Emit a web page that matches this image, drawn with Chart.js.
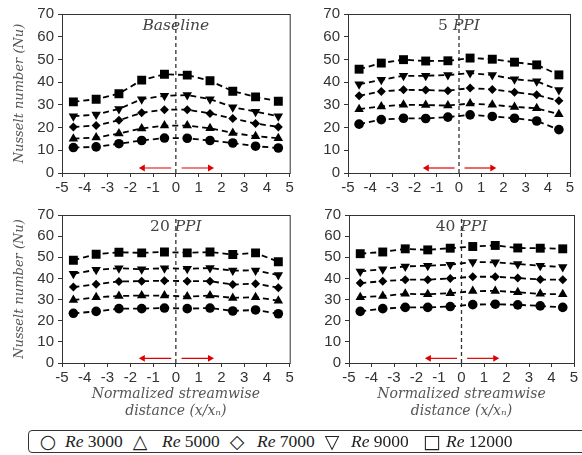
<!DOCTYPE html>
<html>
<head>
  <script src="https://cdn.jsdelivr.net/npm/chart.js"></script>
  <style>
    body { margin: 0; background: #fff; overflow: hidden; }
    .panel { position: absolute; }
    #legend {
      position: absolute; left: 28px; top: 430px; width: 575px; height: 21px;
      border: 1.5px solid #333; border-radius: 4px;
      font-family: 'Liberation Serif', serif; font-size: 17.5px; color: #222;
    }
    #legend span { position: absolute; top: 0px; line-height: 21px; white-space: nowrap; }
    #legend .sym { font-family: 'DejaVu Sans', sans-serif; font-size: 19px; transform: translateX(-50%); }
  </style>
</head>
<body>
  <div class="panel" style="left:0px; top:0px; width:296px; height:200px;"><canvas id="pBase"></canvas></div>
  <div class="panel" style="left:291px; top:0px; width:291px; height:200px;"><canvas id="p5"></canvas></div>
  <div class="panel" style="left:0px; top:200px; width:296px; height:222px;"><canvas id="p20"></canvas></div>
  <div class="panel" style="left:291px; top:200px; width:291px; height:222px;"><canvas id="p40"></canvas></div>

  <div id="legend">
    <span class="sym" style="left:19px">○</span><span style="left:36px"><i>Re</i> 3000</span>
    <span class="sym" style="left:111px">△</span><span style="left:133px"><i>Re</i> 5000</span>
    <span class="sym" style="left:208px">◇</span><span style="left:228px"><i>Re</i> 7000</span>
    <span class="sym" style="left:303px">▽</span><span style="left:322px"><i>Re</i> 9000</span>
    <span class="sym" style="left:403px">□</span><span style="left:417px"><i>Re</i> 12000</span>
  </div>

  <script>
    // streamwise positions of the measurement points
    const xs = [-4.5, -3.5, -2.5, -1.5, -0.5, 0.5, 1.5, 2.5, 3.5, 4.5];

    const seriesLabels = ['Re 3000', 'Re 5000', 'Re 7000', 'Re 9000', 'Re 12000'];

    // Baseline
    const baseRe3000  = [11.2, 11.5, 12.9, 14.3, 15.4, 15.3, 14.3, 13.2, 11.8, 11.0];
    const baseRe5000  = [15.1, 15.6, 17.4, 19.6, 20.9, 20.9, 19.7, 17.6, 16.2, 15.3];
    const baseRe7000  = [20.3, 20.9, 23.2, 26.5, 27.9, 27.9, 26.2, 24.0, 21.8, 20.3];
    const baseRe9000  = [25.0, 25.7, 28.2, 32.5, 34.0, 34.3, 32.5, 29.0, 27.0, 25.0];
    const baseRe12000 = [31.3, 32.5, 34.9, 40.9, 43.5, 43.1, 40.6, 36.0, 33.5, 31.6];

    // 5 PPI
    const ppi5Re3000  = [21.5, 23.5, 24.1, 24.0, 24.6, 25.6, 24.9, 24.1, 22.9, 19.1];
    const ppi5Re5000  = [28.1, 29.3, 30.0, 29.9, 29.7, 30.6, 30.0, 29.1, 28.5, 25.9];
    const ppi5Re7000  = [34.0, 35.9, 36.6, 36.5, 36.2, 37.4, 36.8, 35.6, 34.4, 31.8];
    const ppi5Re9000  = [39.1, 41.0, 42.8, 42.8, 43.1, 44.0, 43.1, 41.3, 40.4, 36.5];
    const ppi5Re12000 = [45.7, 48.4, 49.9, 49.3, 49.4, 50.6, 50.1, 48.8, 47.6, 43.2];

    // 20 PPI
    const ppi20Re3000  = [23.5, 24.4, 25.7, 25.7, 26.0, 25.7, 26.0, 24.6, 25.1, 23.3];
    const ppi20Re5000  = [29.8, 31.1, 31.7, 31.9, 31.9, 31.4, 31.9, 30.8, 31.1, 29.5];
    const ppi20Re7000  = [35.9, 37.3, 38.6, 38.7, 38.9, 38.7, 38.7, 37.1, 37.5, 35.6];
    const ppi20Re9000  = [42.2, 44.1, 44.8, 44.4, 44.8, 44.6, 44.9, 43.7, 43.8, 41.6];
    const ppi20Re12000 = [48.6, 51.4, 52.4, 52.1, 52.5, 52.1, 52.5, 51.3, 52.1, 47.9];

    // 40 PPI
    const ppi40Re3000  = [24.4, 25.7, 26.3, 26.3, 26.7, 27.6, 27.8, 27.5, 27.0, 26.3];
    const ppi40Re5000  = [31.1, 31.7, 32.7, 32.5, 33.0, 34.0, 34.1, 33.5, 32.7, 32.5];
    const ppi40Re7000  = [37.8, 38.7, 39.4, 39.4, 40.0, 40.8, 40.8, 40.2, 39.5, 39.4];
    const ppi40Re9000  = [43.3, 44.4, 45.7, 46.0, 46.5, 47.8, 47.6, 46.8, 46.0, 45.4];
    const ppi40Re12000 = [51.7, 52.5, 54.0, 53.5, 54.3, 55.1, 55.6, 54.4, 54.3, 54.0];

    // guides: centre line and flow-direction arrows
    const centreX = [0, 0];
    const centreY = [0, 70];
    const arrowY = 2.2;
    const leftArrowX = [-0.2, -1.45];
    const rightArrowX = [0.25, 1.5];

    const markerStyles = [
      { pointStyle: 'circle', radius: 4.8, rotation: 0 },
      { pointStyle: 'triangle', radius: 5.5, rotation: 0 },
      { pointStyle: 'rectRot', radius: 4.5, rotation: 0 },
      { pointStyle: 'triangle', radius: 5.5, rotation: 180 },
      { pointStyle: 'rect', radius: 6.3, rotation: 0 }
    ];

    const tickFont = { family: "'Liberation Sans', Arial, sans-serif", size: 15 };
    const titleFont = { family: "'DejaVu Serif', serif", size: 13, style: 'italic' };

    // frame round the plot + panel label
    const panelDecor = {
      id: 'panelDecor',
      beforeDatasetsDraw(chart, args, opts) {
        const ctx = chart.ctx;
        const xPix = chart.scales.x.getPixelForValue(0);
        const yPix = chart.chartArea.top + 12;
        ctx.save();
        ctx.fillStyle = '#444';
        ctx.textBaseline = 'middle';
        const numFont = "15.5px 'DejaVu Serif', serif";
        const itFont = "italic 15.5px 'DejaVu Serif', serif";
        ctx.font = numFont;
        const wNum = opts.num ? ctx.measureText(opts.num + ' ').width : 0;
        ctx.font = itFont;
        const wIt = ctx.measureText(opts.label).width;
        let x0 = xPix - (wNum + wIt) / 2;
        if (opts.num) {
          ctx.font = numFont;
          ctx.fillText(opts.num + ' ', x0, yPix);
        }
        ctx.font = itFont;
        ctx.fillText(opts.label, x0 + wNum, yPix);
        ctx.restore();
      },
      afterDraw(chart) {
        const { ctx, chartArea: a } = chart;
        ctx.save();
        ctx.strokeStyle = '#333';
        ctx.lineWidth = 1;
        ctx.strokeRect(a.left + 0.5, a.top + 0.5, a.right - a.left, a.bottom - a.top);
        ctx.restore();
      }
    };

    function makePanel(id, values, num, label, opt) {
      const datasets = values.map((vals, i) => ({
        label: seriesLabels[i],
        data: vals.map((v, j) => ({ x: xs[j], y: v })),
        borderColor: '#000',
        backgroundColor: '#000',
        borderWidth: 1.8,
        borderDash: [6, 4],
        pointStyle: markerStyles[i].pointStyle,
        pointRadius: markerStyles[i].radius,
        rotation: markerStyles[i].rotation,
        pointBorderWidth: 0,
        tension: 0
      }));
      datasets.push({
        label: 'centre',
        data: centreX.map((v, j) => ({ x: v, y: centreY[j] })),
        borderColor: '#333',
        borderWidth: 1.3,
        borderDash: [4, 3],
        pointRadius: 0
      });
      [[leftArrowX, -90], [rightArrowX, 90]].forEach(([ax, rot]) => {
        datasets.push({
          label: 'arrow',
          data: ax.map(v => ({ x: v, y: arrowY })),
          borderColor: '#e00000',
          backgroundColor: '#e00000',
          borderWidth: 1.2,
          pointStyle: 'triangle',
          pointRadius: [0, 4],
          rotation: [0, rot],
          pointBorderWidth: 0
        });
      });

      new Chart(document.getElementById(id), {
        type: 'line',
        data: { datasets },
        options: {
          responsive: true,
          maintainAspectRatio: false,
          animation: false,
          layout: { padding: opt.padding },
          plugins: {
            legend: { display: false },
            tooltip: { enabled: false },
            panelDecor: { num, label }
          },
          scales: {
            x: {
              type: 'linear',
              min: -5, max: 5,
              afterFit: s => { s.height = opt.xHeight; },
              border: { color: '#333', width: 1 },
              grid: { display: true, drawOnChartArea: false, tickLength: 4, color: '#333' },
              ticks: { stepSize: 1, autoSkip: false, maxRotation: 0, color: '#333', font: tickFont, padding: 2 },
              title: {
                display: !!opt.xTitle,
                text: opt.xTitle || '',
                color: '#555',
                font: { family: "'DejaVu Serif', serif", size: 14, style: 'italic', lineHeight: 1.2 },
                padding: { top: 0, bottom: 2 }
              }
            },
            y: {
              min: 0, max: 70,
              afterFit: s => { s.width = opt.yWidth; },
              border: { color: '#333', width: 1 },
              grid: { display: true, drawOnChartArea: false, tickLength: 4, color: '#333' },
              ticks: { stepSize: 10, color: '#333', font: tickFont, padding: 4 },
              title: {
                display: !!opt.yTitle,
                text: opt.yTitle || '',
                color: '#555',
                font: titleFont,
                padding: { top: 12, bottom: 0 }
              }
            }
          }
        },
        plugins: [panelDecor]
      });
    }

    const yTitle = 'Nusselt number (Nu)';
    const xTitle = ['Normalized streamwise', 'distance (x/xₙ)'];

    makePanel('pBase', [baseRe3000, baseRe5000, baseRe7000, baseRe9000, baseRe12000], '', 'Baseline',
      { yTitle, yWidth: 62, xHeight: 27, padding: { top: 14, right: 6, bottom: 0, left: 0 } });
    makePanel('p5', [ppi5Re3000, ppi5Re5000, ppi5Re7000, ppi5Re9000, ppi5Re12000], '5', 'PPI',
      { yWidth: 57, xHeight: 27, padding: { top: 14, right: 12, bottom: 0, left: 0 } });
    makePanel('p20', [ppi20Re3000, ppi20Re5000, ppi20Re7000, ppi20Re9000, ppi20Re12000], '20', 'PPI',
      { yTitle, xTitle, yWidth: 62, xHeight: 59, padding: { top: 15, right: 6, bottom: 0, left: 0 } });
    makePanel('p40', [ppi40Re3000, ppi40Re5000, ppi40Re7000, ppi40Re9000, ppi40Re12000], '40', 'PPI',
      { xTitle, yWidth: 58, xHeight: 59, padding: { top: 15, right: 8, bottom: 0, left: 0 } });
  </script>
</body>
</html>
